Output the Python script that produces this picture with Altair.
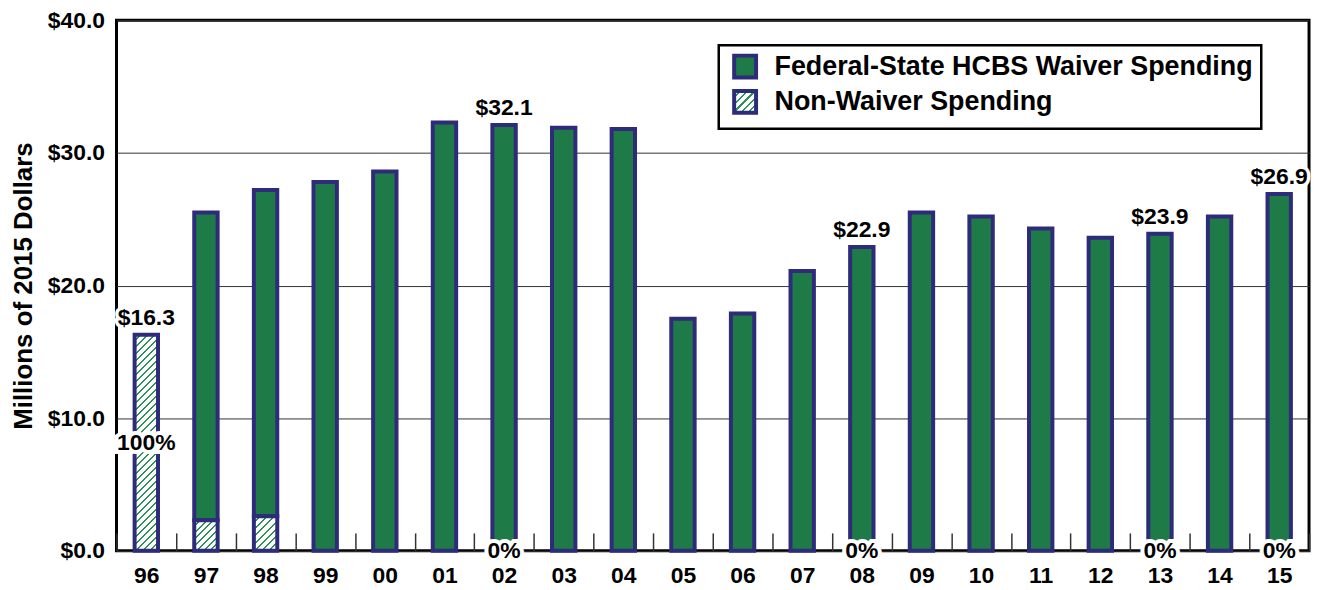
import json
import altair as alt
import pandas as pd

# ---------------- data ----------------
years = ['96', '97', '98', '99', '00', '01', '02', '03', '04', '05',
         '06', '07', '08', '09', '10', '11', '12', '13', '14', '15']
waiver = [0.0, 23.2, 24.6, 27.8, 28.6, 32.3, 32.1, 31.9, 31.8, 17.5,
          17.9, 21.1, 22.9, 25.5, 25.2, 24.3, 23.6, 23.9, 25.2, 26.9]
nonwaiver = [16.3, 2.3, 2.6, 0.0, 0.0, 0.0, 0.0, 0.0, 0.0, 0.0,
             0.0, 0.0, 0.0, 0.0, 0.0, 0.0, 0.0, 0.0, 0.0, 0.0]
label_years = ['96', '02', '08', '13', '15']
y_ticks = [0, 10, 20, 30, 40]

W_NAME = "Federal-State HCBS Waiver Spending"
N_NAME = "Non-Waiver Spending"
Y_TITLE = "Millions of 2015 Dollars"

# ---------------- style ----------------
WIDTH, HEIGHT = 1198, 533
Y_MAX = 40
BAR_W = 23.5
STROKE_W = 4
GREEN = "#1e7b47"
NAVY = "#2e2b7a"
HATCH = "#2e9155"
WHITE = "#ffffff"
FONT = "Liberation Sans, Arial, Helvetica, sans-serif"
PX_PER_UNIT = HEIGHT / Y_MAX
TICK_PX = 18  # inner tick length between bars


def hatch(w, h, period=7.0, frac=0.28):
    """Diagonal '/' stripes as a hard-stop linear gradient for a w x h box."""
    s = w * w + h * h
    x2 = w * (w + h) / s
    y2 = h * (w + h) / s
    n = max(1, round((w + h) / period))
    stops = []
    for k in range(n):
        a = k / n
        b = (k + 1 - frac) / n
        c = (k + 1) / n
        stops += [
            {"offset": a, "color": WHITE},
            {"offset": b, "color": WHITE},
            {"offset": b, "color": HATCH},
            {"offset": c, "color": HATCH},
        ]
    return {"gradient": "linear", "x1": 0, "y1": 0, "x2": x2, "y2": y2,
            "stops": stops}


df = pd.DataFrame({"year": years, "waiver": waiver, "nonwaiver": nonwaiver})
df["total"] = df["waiver"] + df["nonwaiver"]

x_scale = alt.Scale(domain=years, paddingInner=0, paddingOuter=0)
# axis lifted inside the plot so its band-edge ticks rise from the bottom frame
x_axis = alt.Axis(title=None, labelAngle=0, domain=False, grid=False,
                  ticks=True, tickBand="extent", tickSize=TICK_PX,
                  tickColor="#333333", tickWidth=1.5, offset=-TICK_PX,
                  labelPadding=14, labelFontSize=23, zindex=1)
y_scale = alt.Scale(domain=[0, Y_MAX], nice=False)
y_axis = alt.Axis(values=y_ticks, format="$.1f", title=Y_TITLE, grid=True,
                  domain=False, ticks=False, labelPadding=12,
                  titlePadding=11, titleFontSize=26, labelFontSize=23)


def X():
    return alt.X("year:N", sort=years, scale=x_scale, axis=x_axis)


def Y(field):
    return alt.Y(field, scale=y_scale, axis=y_axis)


base = alt.Chart(df)

# waiver bars (carry the legend)
legend_grad = hatch(22, 22, period=7.0)
legend_range = [GREEN, alt.ExprRef(expr=json.dumps(legend_grad))]
waiver_bars = base.transform_filter("datum.waiver > 0").transform_calculate(
    series="'" + W_NAME + "'"
).mark_bar(
    size=BAR_W, stroke=NAVY, strokeWidth=STROKE_W
).encode(
    x=X(),
    y=Y("total:Q"),
    y2="nonwaiver:Q",
    fill=alt.Fill(
        "series:N",
        scale=alt.Scale(domain=[W_NAME, N_NAME], range=legend_range),
        legend=alt.Legend(
            title=None, orient="none", legendX=605, legendY=25,
            fillColor=WHITE, strokeColor="black", padding=8,
            symbolOffset=5,
            labelFont=FONT, labelFontSize=27, labelFontWeight="bold",
            labelColor="black", labelLimit=800, labelOffset=16,
            symbolType="square", symbolSize=484, symbolStrokeColor=NAVY,
            symbolStrokeWidth=STROKE_W, symbolOpacity=1, rowPadding=-3.5,
        ),
    ),
)

# non-waiver bars, hatched (one layer per bar so the stripes keep their angle)
nw_layers = []
for yr, v in zip(years, nonwaiver):
    if v <= 0:
        continue
    grad = hatch(BAR_W, v * PX_PER_UNIT)
    nw_layers.append(
        base.transform_filter(alt.FieldEqualPredicate(field="year", equal=yr))
        .mark_bar(size=BAR_W, stroke=NAVY, strokeWidth=STROKE_W)
        .encode(x=X(), y=Y("nonwaiver:Q"), fill=alt.value(grad))
    )

# annotations
ann = base.transform_filter(
    alt.FieldOneOfPredicate(field="year", oneOf=label_years)
).transform_calculate(
    vlabel="'$' + format(datum.total, '.1f')",
    plabel="format(datum.nonwaiver / datum.total * 100, '.0f') + '%'",
    ypos="datum.nonwaiver / 2",
)

txt_style = dict(font=FONT, fontSize=23, fontWeight="bold")
val_halo = ann.mark_text(baseline="alphabetic", dy=-10, fill=WHITE,
                         stroke=WHITE, strokeWidth=7, **txt_style).encode(
    x=X(), y=Y("total:Q"), text="vlabel:N")
val_txt = ann.mark_text(baseline="alphabetic", dy=-10, color="black",
                        **txt_style).encode(
    x=X(), y=Y("total:Q"), text="vlabel:N")
pct_halo = ann.mark_text(baseline="middle", fill=WHITE, stroke=WHITE,
                         strokeWidth=8, **txt_style).encode(
    x=X(), y=Y("ypos:Q"), text="plabel:N")
pct_txt = ann.mark_text(baseline="middle", color="black",
                        **txt_style).encode(
    x=X(), y=Y("ypos:Q"), text="plabel:N")

chart = alt.layer(
    waiver_bars, *nw_layers, val_halo, val_txt, pct_halo, pct_txt
).properties(
    width=WIDTH, height=HEIGHT,
    autosize=alt.AutoSizeParams(type="none"),
    padding={"left": 109, "top": 11, "right": 5, "bottom": 38},
).configure_view(
    stroke="black", strokeWidth=3
).configure_axis(
    labelFont=FONT, labelFontWeight="bold", labelColor="black",
    titleFont=FONT, titleFontWeight="bold", titleColor="black",
    gridColor="#333333", gridWidth=1,
).configure_legend(
    strokeWidth=2.5
)

chart.save("out.html", embed_options={"renderer": "svg", "actions": False})
